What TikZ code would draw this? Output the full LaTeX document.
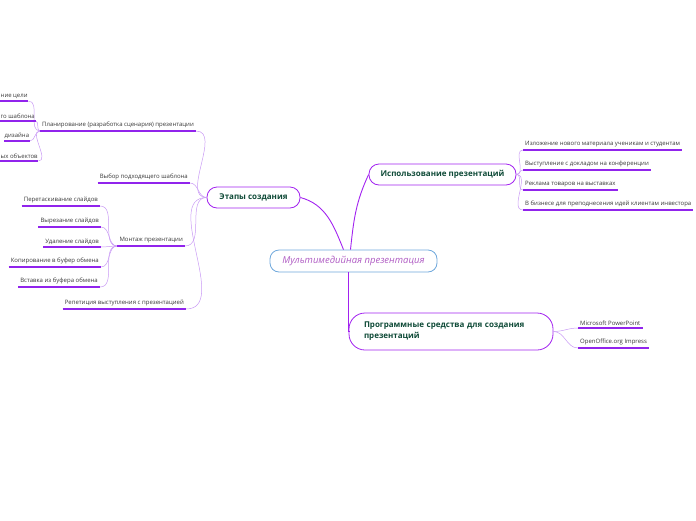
\documentclass[tikz,border=0pt]{standalone}
\usepackage{fontspec}
\setmainfont{Open Sans}
\usepackage{xcolor}
\usetikzlibrary{positioning}

\definecolor{brc}{HTML}{A222F0}
\definecolor{ulc}{HTML}{9124EC}
\definecolor{twigc}{HTML}{C99AF4}
\definecolor{mmline}{HTML}{6FA8DC}
\definecolor{mmtext}{HTML}{B05CC4}
\definecolor{topictext}{HTML}{0E4A37}

\begin{document}
\begin{tikzpicture}[x=1pt, y=-1pt,
    central/.style={draw=mmline, line width=0.8pt, rounded corners=9pt, fill=white,
      minimum width=167pt, minimum height=22pt, text=mmtext,
      font=\fontsize{9.5}{11}\selectfont\itshape},
    topic/.style={draw=brc, line width=0.8pt, rounded corners=10pt, fill=white,
      minimum height=21pt, text=topictext, font=\fontsize{8}{11}\selectfont\bfseries},
    leaf/.style={font=\fontsize{6}{7}\selectfont, text=black!78, inner xsep=2pt, inner ysep=2.6pt},
    uline/.style={draw=ulc, line width=1.1pt},
    twig/.style={draw=twigc, line width=0.5pt},
    branch/.style={draw=brc, line width=0.9pt}]
  \useasboundingbox (0,0) rectangle (696,520);

  % Central topic and main branches
  \node[central] (mm) at (353.5,261) {Мультимедийная презентация};
  \node[topic, minimum width=93pt] (etap) at (253.5,197.5) {Этапы создания};
  \node[topic, minimum width=147pt] (isp) at (442.5,174.5) {Использование презентаций};
  \node[topic, minimum width=204pt, minimum height=37pt, rounded corners=16pt,
    text width=174pt, align=left] (prog) at (451,331.5)
    {Программные средства для создания\\презентаций};

  \draw[branch] ([xshift=-10pt]mm.north) to[out=112,in=-15] (etap.east);
  \draw[branch] ([xshift=-3pt]mm.north) to[out=84,in=245] (isp.west);
  \draw[branch] ([xshift=-5pt]mm.south) |- (prog.west);

  % Использование презентаций
  \node[leaf, anchor=south west] (isp1) at (523,150) {Изложение нового материала ученикам и студентам};
  \node[leaf, anchor=south west] (isp2) at (523,170) {Выступление с докладом на конференции};
  \node[leaf, anchor=south west] (isp3) at (523,190) {Реклама товаров на выставках};
  \node[leaf, anchor=south west] (isp4) at (523,210) {В бизнесе для преподнесения идей клиентам инвестора};
  \foreach \n in {isp1,isp2,isp3,isp4}
    \draw[twig] (isp.east) to[out=0,in=180] (\n.south west);

  % Программные средства
  \node[leaf, anchor=south west] (pp1) at (578,328) {Microsoft PowerPoint};
  \node[leaf, anchor=south west] (pp2) at (578,348) {OpenOffice.org Impress};
  \foreach \n in {pp1,pp2}
    \draw[twig] (prog.east) to[out=0,in=180] (\n.south west);

  % Этапы создания
  \node[leaf, anchor=south east] (plan) at (196,131) {Планирование (разработка сценария) презентации};
  \node[leaf, anchor=south east] (vyb) at (190,183) {Выбор подходящего шаблона};
  \node[leaf, anchor=south east] (mont) at (185,246) {Монтаж презентации};
  \node[leaf, anchor=south east] (rep) at (186,309) {Репетиция выступления с презентацией};
  \foreach \n in {plan,vyb,mont,rep}
    \draw[twig] (etap.west) to[out=180,in=0] (\n.south east);

  % Планирование
  \node[leaf, anchor=south west, inner xsep=0.5pt] (p1) at (0,101) {ние цели};
  \node[leaf, anchor=south west, inner xsep=0.5pt] (p2) at (0,121) {го шаблона};
  \node[leaf, anchor=south west, inner xsep=0.5pt] (p3) at (4,141) {дизайна};
  \node[leaf, anchor=south west, inner xsep=0.5pt] (p4) at (0,161) {ых объектов};
  \foreach \n in {p1,p2,p3,p4}
    \draw[twig] (plan.south west) to[out=180,in=0] (\n.south east);

  % Монтаж
  \node[leaf, anchor=south east] (m1) at (100,206) {Перетаскивание слайдов};
  \node[leaf, anchor=south east] (m2) at (101,227) {Вырезание слайдов};
  \node[leaf, anchor=south east] (m3) at (101,247) {Удаление слайдов};
  \node[leaf, anchor=south east] (m4) at (101,267) {Копирование в буфер обмена};
  \node[leaf, anchor=south east] (m5) at (100,287) {Вставка из буфера обмена};
  \foreach \n in {m1,m2,m3,m4,m5}
    \draw[twig] (mont.south west) to[out=180,in=0] (\n.south east);

  % Underlines
  \foreach \n in {isp1,isp2,isp3,isp4,pp1,pp2,plan,vyb,mont,rep,p1,p2,p3,p4,m1,m2,m3,m4,m5}
    \draw[uline] (\n.south west) -- (\n.south east);
\end{tikzpicture}
\end{document}
